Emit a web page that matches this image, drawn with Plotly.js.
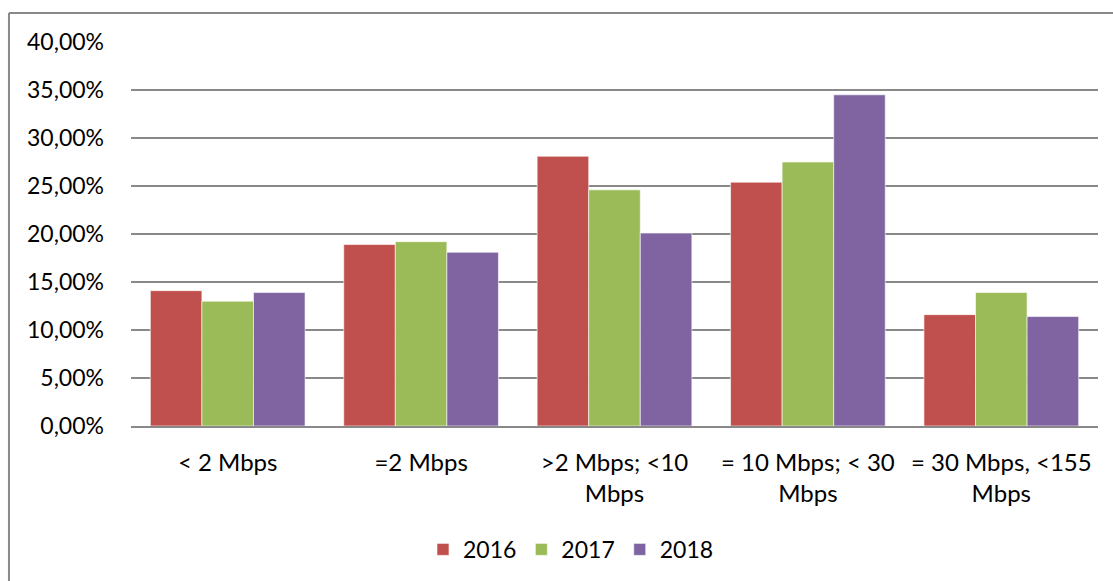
<!DOCTYPE html>
<html>
<head>
<meta charset="utf-8">
<script src="https://cdn.plot.ly/plotly-3.0.1.min.js"></script>
<style>
html,body{margin:0;padding:0;background:#fff;}
#chart{width:1113px;height:581px;}
</style>
</head>
<body>
<div id="chart"></div>
<script>
var categories = ["&lt; 2 Mbps", "=2 Mbps", "&gt;2 Mbps; &lt;10<br>Mbps", "= 10 Mbps; &lt; 30<br>Mbps", "= 30 Mbps, &lt;155<br>Mbps"];
var series2016 = [0.141, 0.189, 0.281, 0.254, 0.116];
var series2017 = [0.130, 0.192, 0.246, 0.275, 0.139];
var series2018 = [0.139, 0.181, 0.201, 0.345, 0.114];
var seriesNames = ["2016", "2017", "2018"];
var colors = ["#C0504D", "#9BBB59", "#8064A2"];

var allSeries = [series2016, series2017, series2018];
var traces = allSeries.map(function (vals, i) {
  return {
    type: "bar",
    name: seriesNames[i],
    x: categories,
    y: vals,
    marker: { color: colors[i], line: { color: "#ffffff", width: 0.6 } },
    hoverinfo: "none"
  };
});

var FONT = "Lato, 'Open Sans', sans-serif";
var layout = {
  width: 1113,
  height: 581,
  margin: { l: 131, r: 15, t: 42, b: 154, pad: 0 },
  paper_bgcolor: "#ffffff",
  plot_bgcolor: "#ffffff",
  font: { family: FONT, size: 23, color: "#000000" },
  separators: ",.",
  barmode: "group",
  bargap: 0.2,
  bargroupgap: 0,
  showlegend: true,
  legend: {
    orientation: "h",
    x: 0.455, xanchor: "center",
    y: -0.318, yanchor: "middle",
    font: { family: FONT, size: 23, color: "#000" },
    itemwidth: 30,
    tracegroupgap: 0
  },
  xaxis: {
    type: "category",
    showgrid: false,
    showline: true,
    linecolor: "#898989",
    linewidth: 2,
    ticks: "",
    tickfont: { family: FONT, size: 24, color: "#000" },
    ticklabelstandoff: 14,
    fixedrange: true
  },
  yaxis: {
    range: [0, 0.4],
    dtick: 0.05,
    tick0: 0,
    tickformat: ".2%",
    showgrid: true,
    gridcolor: "#898989",
    gridwidth: 2,
    zeroline: false,
    showline: false,
    ticks: "",
    tickfont: { family: FONT, size: 23, color: "#000" },
    ticklabelstandoff: 26,
    fixedrange: true
  },
  shapes: [
    { type: "line", xref: "paper", yref: "paper", x0: -0.1262, x1: -0.1262, y0: -0.5, y1: 1.0754,
      line: { color: "#898989", width: 2 } },
    { type: "line", xref: "paper", yref: "paper", x0: -0.1262, x1: 1.05, y0: 1.0754, y1: 1.0754,
      line: { color: "#898989", width: 2 } }
  ]
};

Plotly.newPlot("chart", traces, layout, { displayModeBar: false, staticPlot: true });
</script>
</body>
</html>
